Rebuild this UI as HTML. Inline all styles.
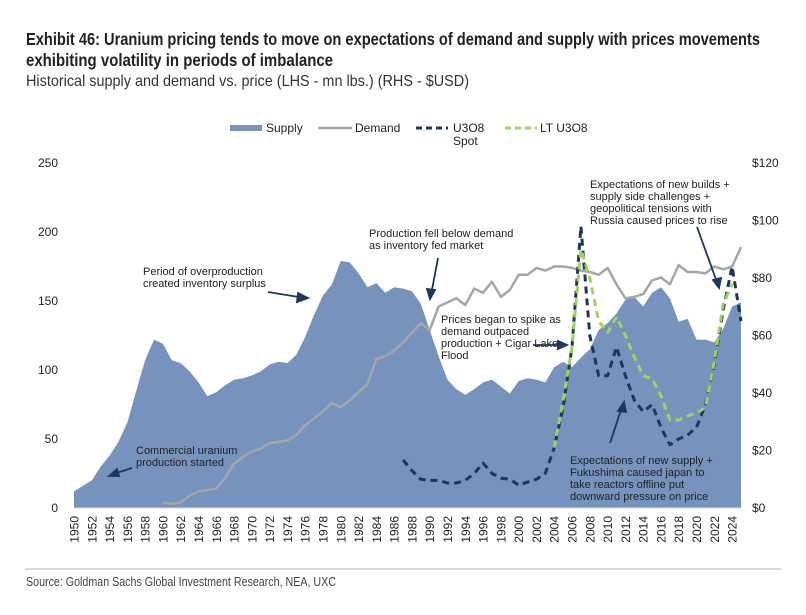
<!DOCTYPE html>
<html><head><meta charset="utf-8"><style>
body{margin:0;background:#fff;width:806px;height:610px;overflow:hidden;font-family:"Liberation Sans",sans-serif}
svg text{font-family:"Liberation Sans",sans-serif}
</style></head><body>
<svg id="c" width="806" height="610">
<text x="26" y="45" font-size="17.5" font-weight="bold" fill="#222" textLength="734" lengthAdjust="spacingAndGlyphs">Exhibit 46: Uranium pricing tends to move on expectations of demand and supply with prices movements</text>
<text x="26" y="66" font-size="17.5" font-weight="bold" fill="#222" textLength="307" lengthAdjust="spacingAndGlyphs">exhibiting volatility in periods of imbalance</text>
<text x="26" y="86" font-size="16" fill="#333" textLength="443" lengthAdjust="spacingAndGlyphs">Historical supply and demand vs. price (LHS - mn lbs.) (RHS - $USD)</text>
<g font-size="12" fill="#222">
<rect x="230" y="125" width="32" height="6" fill="#7693bd"/>
<text x="266" y="132">Supply</text>
<line x1="318" y1="128" x2="352" y2="128" stroke="#a6a6a6" stroke-width="2.5"/>
<text x="355" y="132">Demand</text>
<line x1="416" y1="128" x2="448" y2="128" stroke="#1c365e" stroke-width="3" stroke-dasharray="6,4"/>
<text x="453" y="132">U3O8</text>
<text x="453" y="145">Spot</text>
<line x1="505" y1="128" x2="537" y2="128" stroke="#9dd45a" stroke-width="3" stroke-dasharray="6,4"/>
<text x="540" y="132">LT U3O8</text>
</g>
<g id="plot"></g>
<g font-size="11" fill="#222">
<text x="143" y="275">Period of overproduction</text><text x="143" y="287">created inventory surplus</text>
<text x="136" y="454">Commercial uranium</text><text x="136" y="466">production started</text>
<text x="369" y="237">Production fell below demand</text><text x="369" y="249">as inventory fed market</text>
<text x="441" y="323">Prices began to spike as</text><text x="441" y="335">demand outpaced</text><text x="441" y="347">production + Cigar Lake</text><text x="441" y="359">Flood</text>
<text x="590" y="188">Expectations of new builds +</text><text x="590" y="200">supply side challenges +</text><text x="590" y="212">geopolitical tensions with</text><text x="590" y="224">Russia caused prices to rise</text>
<text x="570" y="464">Expectations of new supply +</text><text x="570" y="476">Fukushima caused japan to</text><text x="570" y="488">take reactors offline put</text><text x="570" y="500">downward pressure on price</text>
</g>
<g stroke="#1c365e" stroke-width="1.8" fill="#1c365e">
<line x1="268" y1="292" x2="305" y2="298"/><polygon points="308,298 298,293 297,302"/>
<line x1="132" y1="468" x2="113" y2="474"/><polygon points="109,476 117,469 119,476"/>
<line x1="438" y1="258" x2="431" y2="295"/><polygon points="430,299 427,289 435,290"/>
<line x1="533" y1="345" x2="562" y2="345"/><polygon points="567,345 558,341 558,349"/>
<line x1="610" y1="443" x2="622" y2="407"/><polygon points="624,402 618,411 626,412"/>
<line x1="697" y1="227" x2="718" y2="285"/><polygon points="719,288 713,280 721,278"/>
</g>
<line x1="25" y1="569" x2="781" y2="569" stroke="#ccc" stroke-width="1.5"/>
<text x="26" y="586" font-size="13" fill="#444" textLength="310" lengthAdjust="spacingAndGlyphs">Source: Goldman Sachs Global Investment Research, NEA, UXC</text>
</svg>
<script>
const years=[];for(let y=1950;y<=2025;y++)years.push(y);
const supply=[12,16,20,30,38,48,62,85,107,122,119,107,105,99,91,81,84,89,93,94,96,99,104,106,105,111,124,140,154,162,179,178,170,160,163,156,160,159,157,148,129,110,93,86,82,86,91,93,88,83,92,94,93,91,102,106,102,109,115,129,134,141,151,153,146,156,160,152,135,137,122,122,120,130,146,149];
const demandYears=[];for(let y=1960;y<=2025;y++)demandYears.push(y);
const demand=[4,3,4,9,12,13,14,22,32,37,41,43,47,48,49,53,60,65,70,76,73,78,84,90,108,110,114,120,127,134,129,146,149,152,147,159,156,164,153,158,169,169,174,172,175,175,174,172,171,169,174,162,152,153,155,165,167,162,176,171,171,170,175,173,175,189];
const spotYears=[];for(let y=1987;y<=2025;y++)spotYears.push(y);
const spot=[16.7,13,10,9.6,9.6,8.7,8.7,9.6,12,15.6,12,10.4,10,8,9,10,12,21,35,56,98,60,46,46,56,46,37.5,33.5,36,28,22,24,25.4,28,36,50,69,84,65];
const ltYears=[];for(let y=2004;y<=2024;y++)ltYears.push(y);
const lt=[21,37.5,56,90,80,65,61,66.5,60,52.5,46,45,39,30.6,30.6,32,33,35,51,71,78];
const leftTicks=[0,50,100,150,200,250];
const rightTicks=[0,20,40,60,80,100,120];
const NS='http://www.w3.org/2000/svg';
const X0=74,X1=741,Y0=508,YT=163;
const xs=y=>X0+(y-1950)*(X1-X0)/75;
const yl=v=>Y0-v*(Y0-YT)/250;
const yr=v=>Y0-v*(Y0-YT)/120;
const g=document.getElementById('plot');
function mk(t,a){const e=document.createElementNS(NS,t);for(const k in a)e.setAttribute(k,a[k]);g.appendChild(e);return e;}
let d='M'+xs(1950)+','+Y0;years.forEach((y,i)=>d+=' L'+xs(y).toFixed(1)+','+yl(supply[i]).toFixed(1));d+=' L'+xs(2025)+','+Y0+' Z';
let e=mk('path',{d:d,fill:'#7693bd'});


e=mk('line',{x1:X0,y1:Y0,x2:X1,y2:Y0,stroke:'#d9d9d9','stroke-width':1});


function line(xsArr,vals,fy,attrs,name){let p='';xsArr.forEach((y,i)=>p+=(i?' L':'M')+xs(y).toFixed(1)+','+fy(vals[i]).toFixed(1));attrs.d=p;attrs.fill='none';attrs['stroke-linejoin']='round';const el=mk('path',attrs);

}
line(demandYears,demand,yl,{stroke:'#a6a6a6','stroke-width':2.5},'demand-line');
line(spotYears,spot,yr,{stroke:'#1c365e','stroke-width':3,'stroke-dasharray':'7,5'},'spot-price-line');
line(ltYears,lt,yr,{stroke:'#9dd45a','stroke-width':3,'stroke-dasharray':'7,5'},'lt-price-line');
leftTicks.forEach(v=>{const t=mk('text',{x:58,y:yl(v)+4,'text-anchor':'end','font-size':12,fill:'#222'});t.textContent=v;

});
rightTicks.forEach(v=>{const t=mk('text',{x:752,y:yr(v)+4,'font-size':12,fill:'#222'});t.textContent='$'+v;

});
years.filter(y=>y%2==0).forEach(y=>{const t=mk('text',{x:0,y:0,'font-size':12,fill:'#222','text-anchor':'end',transform:'translate('+(xs(y)+4.5)+',516) rotate(-90)'});t.textContent=y;

});
</script>
</body></html>
